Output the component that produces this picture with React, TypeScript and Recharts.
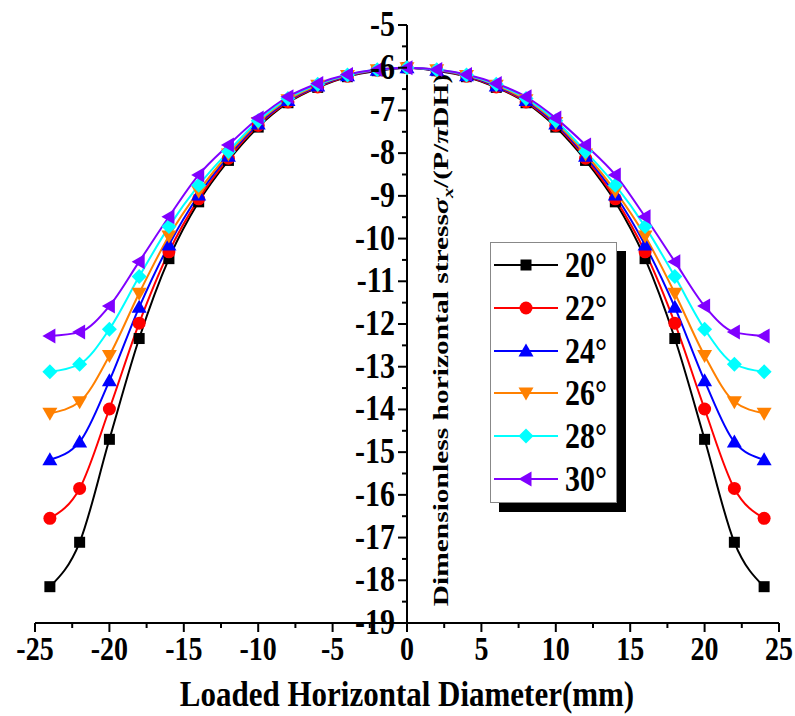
import { Line, LineChart, ReferenceLine, XAxis, YAxis } from 'recharts'

const W = 795
const H = 716
const MARGIN = { top: 25, right: 16, bottom: 0, left: 34 }
const FONT = '"Liberation Serif", "Times New Roman", serif'
// the reference text is drawn a bit taller than it is wide
const STRETCH = 1.18

// positions along the loaded horizontal diameter (mm)
const positions = [-24, -22, -20, -18, -16, -14, -12, -10, -8, -6, -4, -2, 0, 2, 4, 6, 8, 10, 12, 14, 16, 18, 20, 22, 24]

const deg20 = [-18.15, -17.11, -14.7, -12.34, -10.47, -9.14, -8.17, -7.39, -6.82, -6.46, -6.21, -6.07, -6.0, -6.07, -6.21, -6.46, -6.82, -7.39, -8.17, -9.14, -10.47, -12.34, -14.7, -17.11, -18.15]
const deg22 = [-16.55, -15.85, -13.99, -11.98, -10.31, -9.07, -8.12, -7.35, -6.8, -6.45, -6.2, -6.06, -6.0, -6.06, -6.2, -6.45, -6.8, -7.35, -8.12, -9.07, -10.31, -11.98, -13.99, -15.85, -16.55]
const deg24 = [-15.18, -14.76, -13.33, -11.61, -10.15, -8.98, -8.07, -7.32, -6.77, -6.43, -6.19, -6.06, -6.0, -6.06, -6.19, -6.43, -6.77, -7.32, -8.07, -8.98, -10.15, -11.61, -13.33, -14.76, -15.18]
const deg26 = [-14.09, -13.82, -12.74, -11.28, -9.94, -8.89, -8.02, -7.28, -6.75, -6.41, -6.18, -6.05, -6.0, -6.05, -6.18, -6.41, -6.75, -7.28, -8.02, -8.89, -9.94, -11.28, -12.74, -13.82, -14.09]
const deg28 = [-13.12, -12.94, -12.12, -10.89, -9.72, -8.75, -7.96, -7.24, -6.72, -6.39, -6.17, -6.05, -6.0, -6.05, -6.17, -6.39, -6.72, -7.24, -7.96, -8.75, -9.72, -10.89, -12.12, -12.94, -13.12]
const deg30 = [-12.28, -12.19, -11.58, -10.54, -9.49, -8.51, -7.81, -7.18, -6.68, -6.37, -6.16, -6.04, -6.0, -6.04, -6.16, -6.37, -6.68, -7.18, -7.81, -8.51, -9.49, -10.54, -11.58, -12.19, -12.28]

const seriesValues = [deg20, deg22, deg24, deg26, deg28, deg30]
const seriesNames = ['20°', '22°', '24°', '26°', '28°', '30°']
const seriesColors = ['#000000', '#ff0000', '#0000ff', '#ff8000', '#00ffff', '#8000ff']
const seriesShapes = ['square', 'circle', 'triangle', 'down', 'diamond', 'left']

const xMajorTicks = [-25, -20, -15, -10, -5, 0, 5, 10, 15, 20, 25]
const xMinorTicks = [-22.5, -17.5, -12.5, -7.5, -2.5, 2.5, 7.5, 12.5, 17.5, 22.5]
const yMajorTicks = [-19, -18, -17, -16, -15, -14, -13, -12, -11, -10, -9, -8, -7, -6, -5]
const yMinorTicks = [-18.5, -17.5, -16.5, -15.5, -14.5, -13.5, -12.5, -11.5, -10.5, -9.5, -8.5, -7.5, -6.5, -5.5]

const data = positions.map((x, i) => {
  const row: Record<string, number> = { x }
  seriesValues.forEach((vals, s) => {
    row[`s${s}`] = vals[i]
  })
  return row
})

function Marker({ shape, cx, cy, color }: { shape: string; cx: number; cy: number; color: string }) {
  if (shape === 'square') return <rect x={cx - 5.5} y={cy - 5.5} width={11} height={11} fill={color} />
  if (shape === 'circle') return <circle cx={cx} cy={cy} r={6.5} fill={color} />
  if (shape === 'triangle')
    return <polygon points={`${cx},${cy - 7.5} ${cx + 7.5},${cy + 5.5} ${cx - 7.5},${cy + 5.5}`} fill={color} />
  if (shape === 'down')
    return <polygon points={`${cx},${cy + 7.5} ${cx + 7.5},${cy - 5.5} ${cx - 7.5},${cy - 5.5}`} fill={color} />
  if (shape === 'diamond')
    return <polygon points={`${cx},${cy - 7.5} ${cx + 7.5},${cy} ${cx},${cy + 7.5} ${cx - 7.5},${cy}`} fill={color} />
  return <polygon points={`${cx - 7.5},${cy} ${cx + 5.5},${cy - 7.5} ${cx + 5.5},${cy + 7.5}`} fill={color} />
}

// text anchored at (x, y) and stretched vertically
function TallText({ x, y, anchor, size, children }: { x: number; y: number; anchor: string; size: number; children: any }) {
  return (
    <text
      transform={`translate(${x}, ${y}) scale(1, ${STRETCH})`}
      x={0}
      y={0}
      textAnchor={anchor}
      fontFamily={FONT}
      fontWeight="bold"
      fontSize={size}
      fill="#000"
    >
      {children}
    </text>
  )
}

const plotHalfWidth = (W - 35 - MARGIN.right) / 2

function XTick(props: any) {
  const { x, y, payload } = props
  const major = xMajorTicks.includes(payload.value)
  return (
    <g>
      <line x1={x} x2={x} y1={y} y2={y + (major ? 9 : 5)} stroke="#000" strokeWidth={2} />
      {major && (
        <TallText x={x} y={y + 37} anchor="middle" size={28}>
          {payload.value}
        </TallText>
      )}
    </g>
  )
}

function YTick(props: any) {
  const { x, y, payload } = props
  const ax = x + plotHalfWidth
  const major = yMajorTicks.includes(payload.value)
  return (
    <g>
      <line x1={ax} x2={ax - (major ? 9 : 5)} y1={y} y2={y} stroke="#000" strokeWidth={2} />
      {major && (
        <TallText x={ax - 12} y={y + 11} anchor="end" size={30}>
          {payload.value}
        </TallText>
      )}
    </g>
  )
}

function YTitle(props: any) {
  const vb = props.viewBox || { x: 0, y: 0, width: 0, height: 0 }
  const cx = vb.x + 33
  const cy = vb.y + vb.height / 2 + 16
  return (
    <text
      transform={`translate(${cx}, ${cy}) rotate(-90) scale(1.34, 1)`}
      x={0}
      y={0}
      dy="0.35em"
      textAnchor="middle"
      fontFamily={FONT}
      fontWeight="bold"
      fontSize={22}
      fill="#000"
    >
      Dimensionless horizontal stress
      <tspan fontStyle="italic">σ</tspan>
      <tspan fontStyle="italic" fontSize={15} dy={5}>x</tspan>
      <tspan dy={-5}>/(P/</tspan>
      <tspan fontStyle="italic">π</tspan>
      <tspan>DH)</tspan>
    </text>
  )
}

function XTitle(props: any) {
  const vb = props.viewBox || { x: 0, y: 0, width: 0, height: 0 }
  return (
    <TallText x={vb.x + vb.width / 2} y={vb.y + 83} anchor="middle" size={31}>
      Loaded Horizontal Diameter(mm)
    </TallText>
  )
}

function LegendBox() {
  return (
    <div
      style={{
        position: 'absolute',
        left: 490,
        top: 242,
        width: 125,
        height: 259,
        border: '1px solid #888',
        background: '#fff',
        boxShadow: '9px 9px 0 0 #000'
      }}
    >
      {seriesNames.map((name, i) => (
        <div key={name} style={{ position: 'absolute', left: 0, top: 1 + i * 42.8, height: 42, width: 125 }}>
          <svg width={70} height={42} style={{ position: 'absolute', left: 0, top: 0 }}>
            <line x1={3} x2={67} y1={21} y2={21} stroke={seriesColors[i]} strokeWidth={2} />
            <Marker shape={seriesShapes[i]} cx={35} cy={21} color={seriesColors[i]} />
          </svg>
          <span
            style={{
              position: 'absolute',
              left: 74,
              top: 0,
              lineHeight: '42px',
              fontFamily: FONT,
              fontWeight: 'bold',
              fontSize: 30,
              color: '#000',
              display: 'inline-block',
              transform: `scale(1, ${STRETCH})`
            }}
          >
            {name}
          </span>
        </div>
      ))}
    </div>
  )
}

export default function App() {
  return (
    <div style={{ position: 'absolute', left: 0, top: 0, width: W, height: H, background: '#fff' }}>
      <LineChart width={W} height={H} data={data} margin={MARGIN}>
        <XAxis
          dataKey="x"
          type="number"
          domain={[-25, 25]}
          ticks={[...xMajorTicks, ...xMinorTicks].sort((a, b) => a - b)}
          interval={0}
          tickSize={0}
          tickMargin={0}
          tickLine={false}
          axisLine={{ stroke: '#000', strokeWidth: 2 }}
          tick={<XTick />}
          height={93}
          label={<XTitle />}
          allowDecimals
        />
        <YAxis
          type="number"
          domain={[-19, -5]}
          ticks={[...yMajorTicks, ...yMinorTicks].sort((a, b) => a - b)}
          interval={0}
          width={1}
          tickSize={0}
          tickMargin={0}
          tickLine={false}
          axisLine={false}
          tick={<YTick />}
          allowDecimals
        />
        <ReferenceLine x={0} stroke="#000" strokeWidth={2} label={<YTitle />} />
        {seriesValues.map((_, s) => (
          <Line
            key={seriesNames[s]}
            type="monotone"
            dataKey={`s${s}`}
            name={seriesNames[s]}
            stroke={seriesColors[s]}
            strokeWidth={2}
            isAnimationActive={false}
            dot={(p: any) => (
              <Marker key={`${s}-${p.index}`} shape={seriesShapes[s]} cx={p.cx} cy={p.cy} color={seriesColors[s]} />
            )}
            activeDot={false}
          />
        ))}
      </LineChart>
      <LegendBox />
    </div>
  )
}
